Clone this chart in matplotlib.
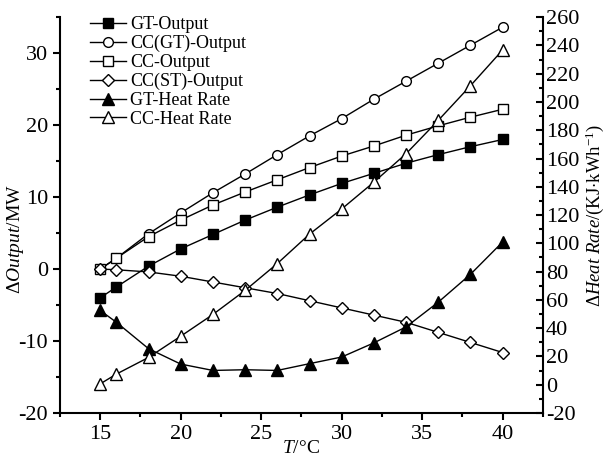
import matplotlib
matplotlib.use("Agg")
import matplotlib.pyplot as plt
from matplotlib.ticker import MultipleLocator

plt.rcParams['font.family'] = ['Liberation Serif', 'DejaVu Sans']
plt.rcParams['mathtext.fontset'] = 'custom'
plt.rcParams['mathtext.rm'] = 'Liberation Serif'
plt.rcParams['mathtext.it'] = 'Liberation Serif:italic'
plt.rcParams['axes.unicode_minus'] = False

temp = [15, 16, 18, 20, 22, 24, 26, 28, 30, 32, 34, 36, 38, 40]

gt_output = [-4.0, -2.5, 0.4, 2.8, 4.8, 6.8, 8.6, 10.3, 11.9, 13.3, 14.7, 15.9, 17.0, 18.0]
cc_gt_output = [0.0, 1.5, 4.9, 7.8, 10.6, 13.2, 15.9, 18.5, 20.9, 23.6, 26.1, 28.6, 31.1, 33.6]
cc_output = [0.0, 1.5, 4.5, 6.8, 8.9, 10.7, 12.4, 14.1, 15.7, 17.1, 18.6, 19.9, 21.1, 22.2]
cc_st_output = [0.0, -0.1, -0.4, -1.0, -1.8, -2.6, -3.4, -4.4, -5.4, -6.4, -7.4, -8.8, -10.2, -11.6]

gt_heat_rate = [52.5, 44.2, 25.5, 14.6, 10.1, 10.6, 10.1, 14.9, 19.6, 29.6, 40.9, 58.4, 78.1, 101.0]
cc_heat_rate = [0.6, 7.5, 19.3, 34.3, 49.7, 66.7, 85.7, 106.5, 124.3, 143.3, 163.4, 187.0, 211.5, 236.8]

fig = plt.figure(figsize=(6.09, 4.63), dpi=100)
ax = fig.add_axes([0.0985, 0.108, 0.793, 0.855])
ax2 = ax.twinx()

style = dict(color='black', lw=1.0, markeredgewidth=1.0)
h1, = ax.plot(temp, gt_output, marker='s', mfc='black', ms=7, label='GT-Output', **style)
h2, = ax.plot(temp, cc_gt_output, marker='o', mfc='white', ms=7, label='CC(GT)-Output', **style)
h3, = ax.plot(temp, cc_output, marker='s', mfc='white', ms=7, label='CC-Output', **style)
h4, = ax.plot(temp, cc_st_output, marker='D', mfc='white', ms=6.5, label='CC(ST)-Output', **style)
h5, = ax2.plot(temp, gt_heat_rate, marker='^', mfc='black', ms=8, label='GT-Heat Rate', **style)
h6, = ax2.plot(temp, cc_heat_rate, marker='^', mfc='white', ms=8, label='CC-Heat Rate', **style)

ax.set_xlim(12.5, 42.5)
ax.set_ylim(-20, 35)
ax2.set_ylim(-20, 260)

ax.xaxis.set_major_locator(MultipleLocator(5))
ax.xaxis.set_minor_locator(MultipleLocator(2.5))
ax.yaxis.set_major_locator(MultipleLocator(10))
ax.yaxis.set_minor_locator(MultipleLocator(5))
ax2.yaxis.set_major_locator(MultipleLocator(20))
ax2.yaxis.set_minor_locator(MultipleLocator(10))

for a in (ax, ax2):
    a.spines['top'].set_visible(False)
    for s in a.spines.values():
        s.set_linewidth(1.5)
ax.spines['right'].set_visible(False)
ax2.spines['left'].set_visible(False)
ax2.spines['bottom'].set_visible(False)

ax.tick_params(which='major', direction='out', length=5, width=1.5, labelsize=16)
ax.tick_params(which='minor', direction='out', length=3, width=1.5)
ax2.tick_params(which='major', direction='in', length=5, width=1.5, labelsize=16, pad=2)
ax2.tick_params(which='minor', direction='in', length=3, width=1.5)

ax.set_xlabel(r'$\mathit{T}$/°C', fontsize=14, labelpad=-3)
ax.set_ylabel(r'$\Delta\mathit{Output}$/MW', fontsize=14, labelpad=-2)
ax2.set_ylabel(r'$\Delta\mathit{Heat\ Rate}$/(KJ$\cdot$kWh$^{-1}$)', fontsize=13.5, labelpad=3)
ax.yaxis.set_label_coords(-0.07, 0.44)

ax.legend(handles=[h1, h2, h3, h4, h5, h6], loc='upper left', bbox_to_anchor=(0.04, 1.03),
          frameon=False, fontsize=13, handlelength=2.0, handletextpad=0.2,
          labelspacing=0.1, borderaxespad=0.2)

fig.savefig('out.png', dpi=100)
